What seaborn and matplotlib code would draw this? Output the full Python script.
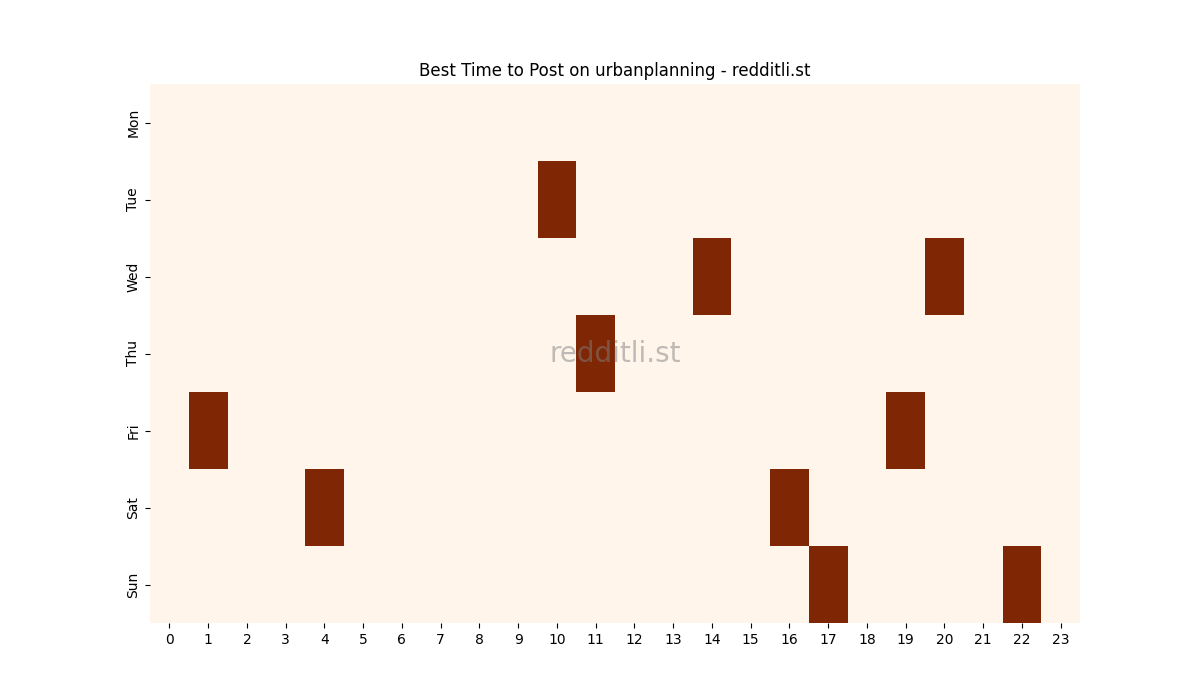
import numpy as np
import pandas as pd
import matplotlib
matplotlib.use("Agg")
import matplotlib.pyplot as plt
import seaborn as sns

days = ["Mon", "Tue", "Wed", "Thu", "Fri", "Sat", "Sun"]
hours = list(range(24))
# (day, hour) slots flagged as best time to post
best_slots = [
    ("Tue", 10),
    ("Wed", 14), ("Wed", 20),
    ("Thu", 11),
    ("Fri", 1), ("Fri", 19),
    ("Sat", 4), ("Sat", 16),
    ("Sun", 17), ("Sun", 22),
]


def build_grid():
    grid = pd.DataFrame(0, index=days, columns=hours)
    for day, hour in best_slots:
        grid.loc[day, hour] = 1
    return grid


def main():
    grid = build_grid()
    fig, ax = plt.subplots(figsize=(12, 7), dpi=100)
    sns.heatmap(grid, cmap="Oranges", cbar=False, ax=ax)
    ax.set_title("Best Time to Post on urbanplanning - redditli.st")
    ax.set_yticklabels(days, rotation=90, va="center")
    ax.set_xticklabels(hours, rotation=0)
    ax.text(0.5, 0.5, "redditli.st", transform=ax.transAxes, ha="center", va="center",
            fontsize=20, color="gray", alpha=0.5)
    fig.savefig("out.png", dpi=100)


if __name__ == "__main__":
    main()
